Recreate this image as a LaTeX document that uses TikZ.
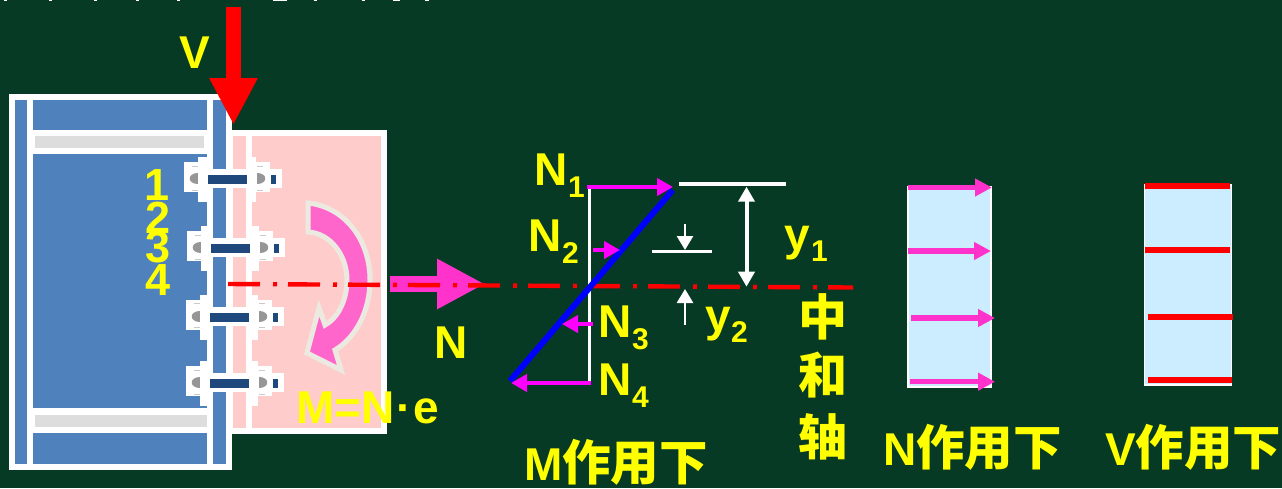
\documentclass[tikz,border=0pt]{standalone}
\usepackage{fontspec}
\setmainfont{Liberation Sans}
\newfontfamily\cjk{Noto Sans CJK SC}
\usetikzlibrary{arrows.meta}
\definecolor{bgc}{RGB}{6,58,36}
\definecolor{steel}{RGB}{79,129,189}
\definecolor{navy}{RGB}{31,73,125}
\definecolor{pinkplate}{RGB}{255,204,204}
\definecolor{paleblue}{RGB}{204,236,255}
\definecolor{lgray}{RGB}{221,221,221}
\definecolor{mgray}{RGB}{150,150,150}
\definecolor{hotpink}{RGB}{255,51,204}
\definecolor{momentpink}{RGB}{255,102,204}
\definecolor{cream}{RGB}{236,234,224}
\definecolor{puremag}{RGB}{255,0,255}
\definecolor{purered}{RGB}{255,0,0}
\definecolor{pureblue}{RGB}{0,0,255}
\definecolor{pureyel}{RGB}{255,255,0}
\tikzset{
  lbl/.style={inner sep=0pt,outer sep=0pt,anchor=base west,text=pureyel,font=\fontsize{46}{46}\selectfont\bfseries},
  sublbl/.style={lbl,font=\fontsize{30}{30}\selectfont\bfseries},
  numlbl/.style={lbl,font=\fontsize{45}{45}\selectfont\bfseries},
  cjklbl/.style={lbl,font=\fontsize{49}{49}\selectfont\cjk\bfseries},
  forcearrow/.style={draw=puremag,line width=4.3pt,-{Triangle[length=16pt,width=17pt]}},
  narrow/.style={draw=hotpink,line width=5.5pt,-{Triangle[length=17pt,width=17pt]}},
  dimarrow/.style={draw=white,line width=4pt,-{Triangle[length=15pt,width=16pt]}},
  smallarrow/.style={draw=white,line width=2.7pt,-{Triangle[length=14pt,width=16pt]}},
  whiteline/.style={draw=white,line width=3.4pt},
  redline/.style={draw=purered,line width=6pt},
  axis/.style={draw=purered,line width=4.4pt,dash pattern=on 32pt off 13pt on 4pt off 11pt},
}
\begin{document}
\begin{tikzpicture}[x=1pt,y=-1pt]
\useasboundingbox (0,0) rectangle (1282,488);
\fill[bgc] (0,0) rectangle (1282,488);
% clipped text at the very top
\foreach \xa/\xb in {4/7,49/52,94/97,136/139,177/180,273/287,314/317,362/365,393/400,425/429}
  \fill[white] (\xa,0) rectangle (\xb,1.2);
% pink plate
\fill[white] (226,130) rectangle (387,434);
\fill[pinkplate] (233,136) rectangle (381,428);
\fill[white] (246,136) rectangle (252,428);
% column
\fill[white] (9,94) rectangle (232,470);
\fill[steel] (15,100) rectangle (226,464);
\fill[white] (27,100) rectangle (33,464);
\fill[white] (207,94) rectangle (213,470);
\fill[white] (33,130) rectangle (207,154);
\fill[lgray] (35,136) rectangle (204,148);
\fill[white] (33,408) rectangle (213,433);
\fill[lgray] (35,415) rectangle (207,427);
% bolts
\foreach \bx/\by in {0/179,2.7/248,2/316.7,1.7/383}{
  \begin{scope}[shift={(\bx,\by)}]
    \fill[white] (184,-17) rectangle (198,13);
    \fill[white] (198,-22) rectangle (207,23);
    \fill[white] (198,-10) rectangle (282,9);
    \fill[white] (247,-22) rectangle (256,23);
    \fill[white] (256,-17) rectangle (270,13);
    \fill[mgray] (198,-6) .. controls (187,-6) and (187,5) .. (198,5) -- cycle;
    \fill[mgray] (257,-6) .. controls (268,-6) and (268,5) .. (257,5) -- cycle;
    \fill[navy] (208,-4) rectangle (247,5);
    \fill[navy] (271,-4) rectangle (276,5);
    \draw[mgray!50,line width=0.6pt] (192,-13) -- (198,-13) (192,11) -- (198,11) (257,-13) -- (263,-13) (257,11) -- (263,11);
  \end{scope}
}
% moment arrow
\draw[fill=momentpink,draw=cream,line width=5pt,miter limit=6]
  (308,203) .. controls (345,207) and (370,240) .. (370,280)
  .. controls (370,312) and (355,338) .. (335,350)
  -- (341,370) -- (307,353) -- (319,308) -- (325,325)
  .. controls (338,318) and (347,300) .. (347,280)
  .. controls (347,255) and (330,233) .. (308,232) -- cycle;
% V arrow
\coordinate (vtail) at (233.5,7);
\coordinate (vtip) at (233.5,125);
\draw[purered,line width=15.5pt,-{Triangle[length=47pt,width=45pt]}] (vtail) -- (vtip);
% N arrow
\coordinate (ntail) at (390,284);
\coordinate (ntip) at (485,284);
\draw[hotpink,line width=16pt,-{Triangle[length=48pt,width=47pt]}] (ntail) -- (ntip);
% neutral axis
\coordinate (axl) at (228,284);
\coordinate (axr) at (853,287.5);
\draw[axis] (axl) -- (axr);
% moment stress diagram
\coordinate (vt) at (589.5,187);
\coordinate (vb) at (589.5,383);
\draw[whiteline] (vt) -- (vb);
\coordinate (b1) at (672.7,190);
\coordinate (b2) at (510,381);
\draw[pureblue,line width=6pt] (b1) -- (b2);
\coordinate (n1a) at (587,187); \coordinate (n1b) at (673,187);
\coordinate (n2a) at (593,250); \coordinate (n2b) at (620,250);
\coordinate (n3a) at (593,324); \coordinate (n3b) at (562,324);
\coordinate (n4a) at (591,383); \coordinate (n4b) at (511,383);
\foreach \p in {1,...,4} \draw[forcearrow] (n\p a) -- (n\p b);
% dimension lines
\coordinate (t1a) at (679,184); \coordinate (t1b) at (786,184);
\coordinate (t2a) at (652,251.7); \coordinate (t2b) at (712,251.7);
\draw[whiteline] (t1a) -- (t1b);
\draw[whiteline] (t2a) -- (t2b);
\coordinate (dm) at (746.5,236); \coordinate (dt) at (746.5,186.7); \coordinate (db) at (746.5,286.7);
\draw[dimarrow] (dm) -- (dt);
\draw[dimarrow] (dm) -- (db);
\coordinate (y2a) at (685,224); \coordinate (y2b) at (685,250);
\coordinate (y2c) at (685,325); \coordinate (y2d) at (685,289);
\draw[smallarrow] (y2a) -- (y2b);
\draw[smallarrow] (y2c) -- (y2d);
% N diagram
\fill[paleblue,draw=white,line width=2pt] (908,186.5) rectangle (991,386.5);
\coordinate (p1a) at (908,187.5); \coordinate (p1b) at (992,187.5);
\coordinate (p2a) at (908,251); \coordinate (p2b) at (991,251);
\coordinate (p3a) at (911,318); \coordinate (p3b) at (995,318);
\coordinate (p4a) at (910,381.7); \coordinate (p4b) at (995,381.7);
\foreach \p in {1,...,4} \draw[narrow] (p\p a) -- (p\p b);
% V diagram
\fill[paleblue,draw=white,line width=1.5pt] (1144.5,185) rectangle (1231.5,385);
\coordinate (r1a) at (1145,186); \coordinate (r1b) at (1230,186);
\coordinate (r2a) at (1145,250); \coordinate (r2b) at (1230,250);
\coordinate (r3a) at (1148,317); \coordinate (r3b) at (1233,317);
\coordinate (r4a) at (1147.5,380); \coordinate (r4b) at (1232,380);
\foreach \p in {1,...,4} \draw[redline] (r\p a) -- (r\p b);
% labels
\node[lbl] (lV) at (179,68) {V};
\node[lbl] (lNf) at (434,358) {N};
\node[lbl] (lM) at (296,423) {M=N\hspace{2pt}·\hspace{2pt}e};
\node[numlbl] (l1) at (144,200) {1};
\node[numlbl] (l2) at (145,233) {2};
\node[numlbl] (l3) at (145,262) {3};
\node[numlbl] (l4) at (145,295) {4};
\node[lbl] (lN1) at (534,185) {N};
\node[sublbl] (sN1) at (568,197) {1};
\node[lbl] (lN2) at (528,251) {N};
\node[sublbl] (sN2) at (562,263) {2};
\node[lbl] (lN3) at (598,337) {N};
\node[sublbl] (sN3) at (632,349) {3};
\node[lbl] (lN4) at (598,395) {N};
\node[sublbl] (sN4) at (632,407) {4};
\node[lbl] (ly1) at (784,250) {y};
\node[sublbl] (sy1) at (811,261) {1};
\node[lbl] (ly2) at (705,331) {y};
\node[sublbl] (sy2) at (731,342) {2};
\node[cjklbl,anchor=center] (z1) at (823,317) {中};
\node[cjklbl,anchor=center] (z2) at (823,375) {和};
\node[cjklbl,anchor=center] (z3) at (823,437) {轴};
\node[lbl] (cM) at (524,480) {M{\fontsize{48.5}{48}\selectfont\cjk 作用下}};
\node[lbl] (cN) at (883,465) {N{\fontsize{48.5}{48}\selectfont\cjk 作用下}};
\node[lbl] (cV) at (1105,465) {V{\fontsize{48.5}{48}\selectfont\cjk 作用下}};
\end{tikzpicture}
\end{document}
